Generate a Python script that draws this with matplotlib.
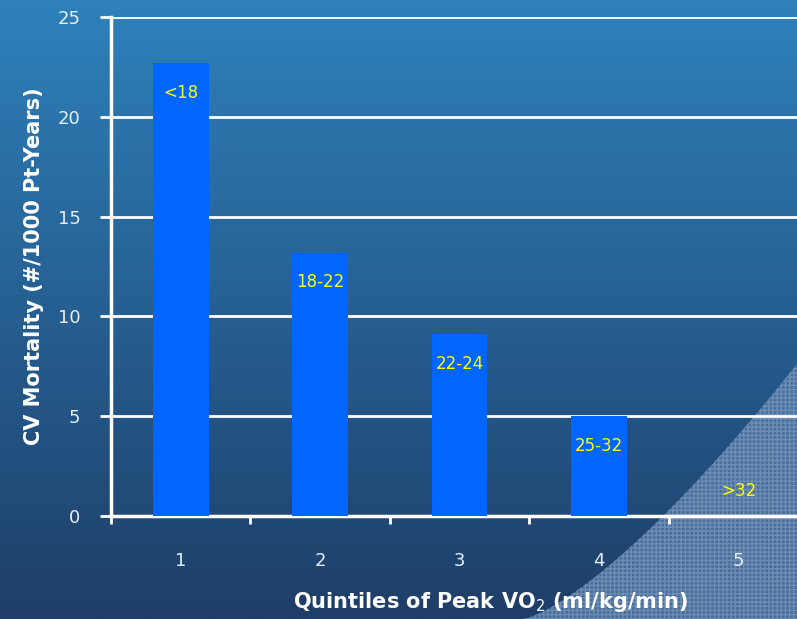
import numpy as np
import matplotlib
matplotlib.use("Agg")
from matplotlib import pyplot as plt
from matplotlib.patches import Polygon

quintiles = [1, 2, 3, 4, 5]
mortality = [22.7, 13.2, 9.1, 5.0, 0.0]
vo2_ranges = ['<18', '18-22', '22-24', '25-32', '>32']
y_ticks = [0, 5, 10, 15, 20, 25]

fig = plt.figure(figsize=(7.97, 6.19), dpi=100)

# background gradient over the whole figure
bg = fig.add_axes([0, 0, 1, 1], zorder=-10)
top = np.array([46, 129, 187]) / 255
bottom = np.array([30, 62, 104]) / 255
t = np.linspace(0, 1, 256)[:, None]
grad = (top * (1 - t) + bottom * t)[:, None, :].repeat(2, axis=1)
bg.imshow(grad, aspect='auto', extent=[0, 1, 0, 1], origin='upper')
# lighter textured corner
cx = np.linspace(523, 797, 60)
cy = 619 - 255 * ((cx - 523) / 274) ** 1.35
pts = [(x / 797, 1 - y / 619) for x, y in zip(cx, cy)] + [(1, 0)]
bg.add_patch(Polygon(pts, closed=True, facecolor='#5579a5', edgecolor='#7696bb',
                     hatch='++++', lw=0, alpha=0.8))
bg.set_xlim(0, 1)
bg.set_ylim(0, 1)
bg.axis('off')

ax = fig.add_axes([111 / 797, 1 - 516 / 619, 1 - 111 / 797, (516 - 17) / 619])
ax.patch.set_alpha(0)

ax.bar(quintiles, mortality, width=0.4, color='#0066ff', zorder=3)

for q, v, lab in zip(quintiles, mortality, vo2_ranges):
    ypos = max(v - 1.5, 1.25)
    ax.text(q, ypos, lab, color='#ffff00', ha='center', va='center',
            fontsize=12, zorder=4)

ax.set_xlim(0.5, 5.42)
ax.set_ylim(0, 25)
ax.set_yticks(y_ticks)
ax.yaxis.grid(True, color='white', lw=2, zorder=0)
ax.set_axisbelow(True)

ax.set_xticks([0.5, 1.5, 2.5, 3.5, 4.5])
ax.set_xticklabels([])
ax.set_xticks(quintiles, minor=True)
ax.set_xticklabels([str(q) for q in quintiles], minor=True)
ax.tick_params(axis='x', which='major', length=6, width=2, color='white', direction='out')
ax.tick_params(axis='x', which='minor', length=0, pad=26, labelsize=13, labelcolor='#e8eef5')
ax.tick_params(axis='y', length=8, width=2, color='white', pad=14,
               labelsize=13, labelcolor='#e8eef5')

for s in ['top', 'right']:
    ax.spines[s].set_visible(False)
for s in ['left', 'bottom']:
    ax.spines[s].set_color('white')
    ax.spines[s].set_linewidth(2.5)

ax.set_ylabel('CV Mortality (#/1000 Pt-Years)', color='white', fontsize=15,
              fontweight='bold', labelpad=10)
ax.set_xlabel('Quintiles of Peak VO$_2$ (ml/kg/min)', color='white', fontsize=15,
              fontweight='bold')
ax.xaxis.set_label_coords(380 / 686, -0.148)

fig.savefig('out.png', dpi=100)
